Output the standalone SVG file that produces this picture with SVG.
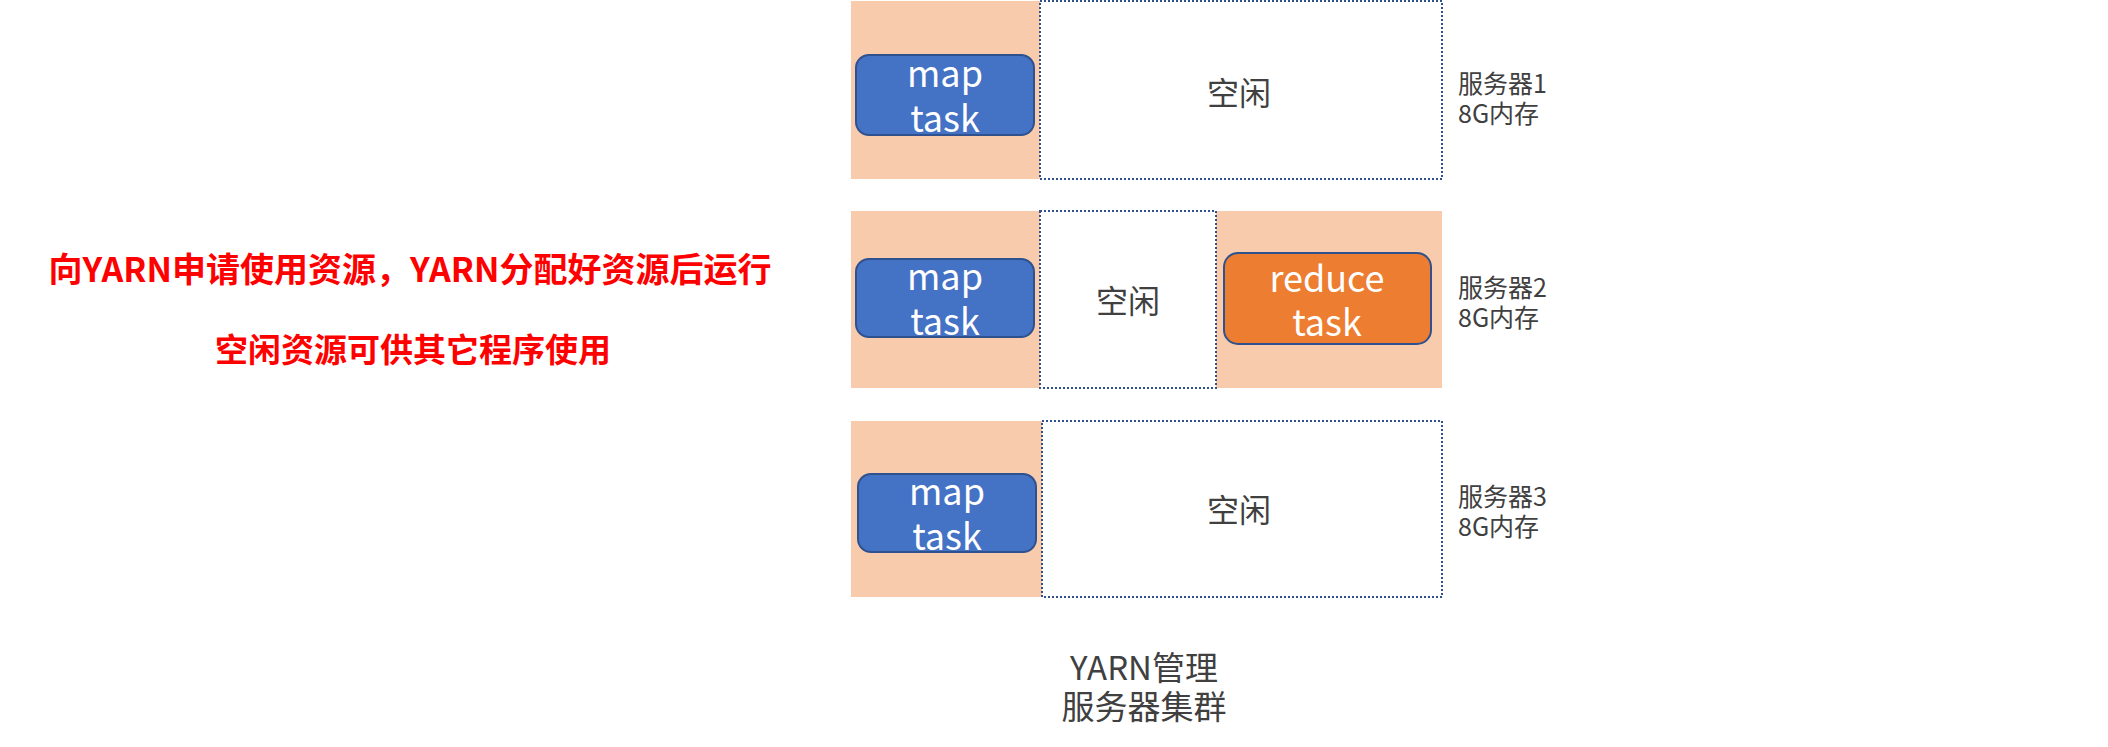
<svg xmlns="http://www.w3.org/2000/svg" width="2108" height="747" viewBox="0 0 2108 747">
<style>
  .peach { fill: #F8CBAD; }
  .idle { fill: #FFFFFF; stroke: #2F528F; stroke-width: 2; stroke-dasharray: 2 2; }
  .map { fill: #4472C4; stroke: #2F528F; stroke-width: 2; }
  .reduce { fill: #ED7D31; stroke: #2F528F; stroke-width: 2; }
  .tw { fill: #FFFFFF; font-family: "Noto Sans CJK SC", "Noto Sans", sans-serif; font-size: 36px; text-anchor: middle; }
  .tg { fill: #404040; font-family: "Noto Sans CJK SC", "Noto Sans", sans-serif; font-size: 32px; text-anchor: middle; }
  .bottom { font-size: 33px; }
  .lbl { fill: #404040; font-family: "Noto Sans CJK SC", "Noto Sans", sans-serif; font-size: 25px; }
  .red { fill: #FF0000; font-family: "Noto Sans CJK SC", sans-serif; font-size: 33px; font-weight: bold; text-anchor: middle; }
</style>
<rect width="2108" height="747" fill="#FFFFFF"/>

<g id="server1">
  <rect class="peach" x="851" y="1" width="190" height="178"/>
  <rect class="idle" x="1040" y="1" width="402" height="178"/>
  <text class="tg" x="1239" y="105">空闲</text>
  <text class="lbl" x="1458" y="93">服务器1</text>
  <text class="lbl" x="1458" y="123">8G内存</text>
</g>
<g id="map1">
  <rect class="map" x="856" y="55" width="178" height="80" rx="13"/>
  <text class="tw" x="945" y="87">map</text>
  <text class="tw" x="945" y="132">task</text>
</g>

<g id="server2">
  <rect class="peach" x="851" y="211" width="591" height="177"/>
  <rect class="idle" x="1040" y="211" width="176" height="177"/>
  <text class="tg" x="1128" y="313">空闲</text>
  <text class="lbl" x="1458" y="297">服务器2</text>
  <text class="lbl" x="1458" y="327">8G内存</text>
</g>
<g id="map2">
  <rect class="map" x="856" y="259" width="178" height="78" rx="13"/>
  <text class="tw" x="945" y="290">map</text>
  <text class="tw" x="945" y="335">task</text>
</g>
<g id="reduce2">
  <rect class="reduce" x="1224" y="253" width="207" height="91" rx="14"/>
  <text class="tw" x="1327" y="292">reduce</text>
  <text class="tw" x="1327" y="336">task</text>
</g>

<g id="server3">
  <rect class="peach" x="851" y="421" width="191" height="176"/>
  <rect class="idle" x="1042" y="421" width="400" height="176"/>
  <text class="tg" x="1239" y="522">空闲</text>
  <text class="lbl" x="1458" y="506">服务器3</text>
  <text class="lbl" x="1458" y="536">8G内存</text>
</g>
<g id="map3">
  <rect class="map" x="858" y="474" width="178" height="78" rx="13"/>
  <text class="tw" x="947" y="505">map</text>
  <text class="tw" x="947" y="550">task</text>
</g>

<g id="cluster-label">
  <text class="tg bottom" x="1144" y="680">YARN管理</text>
  <text class="tg bottom" x="1144" y="719">服务器集群</text>
</g>

<g id="notes">
  <text class="red" x="410" y="282" style="font-size:34px">向YARN申请使用资源，YARN分配好资源后运行</text>
  <text class="red" x="413" y="362">空闲资源可供其它程序使用</text>
</g>

<g id="connectors"></g>
</svg>
